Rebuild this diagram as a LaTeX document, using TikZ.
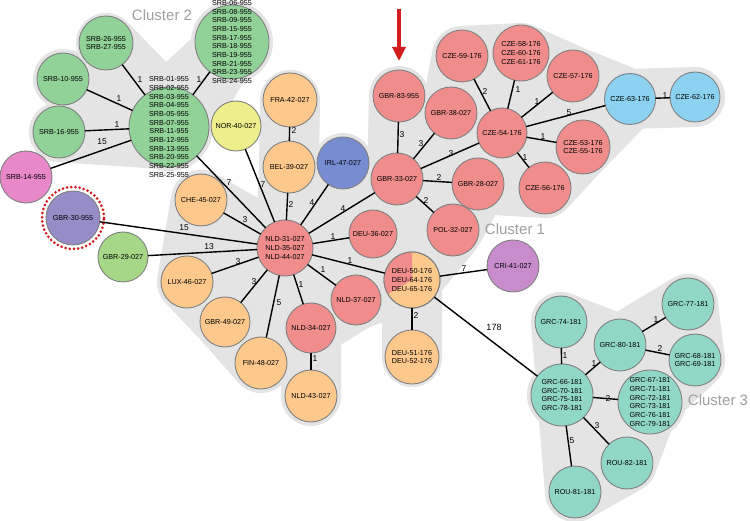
\documentclass[tikz,border=0pt]{standalone}
\usepackage{fontspec}
\setmainfont{Liberation Sans}
\usetikzlibrary{arrows.meta}
\pgfdeclarelayer{bg}
\pgfsetlayers{bg,main}
\definecolor{cgreen}{RGB}{144,210,152}
\definecolor{cpink}{RGB}{232,136,200}
\definecolor{cpurple}{RGB}{150,140,200}
\definecolor{clgreen}{RGB}{166,215,134}
\definecolor{corange}{RGB}{253,200,140}
\definecolor{cred}{RGB}{240,140,140}
\definecolor{cyellow}{RGB}{238,238,140}
\definecolor{cblue}{RGB}{120,140,210}
\definecolor{clblue}{RGB}{140,210,240}
\definecolor{cviolet}{RGB}{200,140,205}
\definecolor{cteal}{RGB}{145,215,200}
\definecolor{hullgray}{RGB}{228,228,228}
\definecolor{labgray}{RGB}{160,160,160}
\definecolor{arrowred}{RGB}{210,30,30}
\tikzset{
  nd/.style={circle, draw=black!50, line width=0.9pt, inner sep=0pt, outer sep=0pt},
  txt/.style={font=\fontsize{7.2}{8.7}\selectfont, align=center, inner sep=0pt},
  edge/.style={line width=1.4pt},
  el/.style={font=\fontsize{8.5}{10}\selectfont, inner sep=0pt},
  hull/.style={fill=hullgray, draw=hullgray, line join=round, line cap=round},
  clab/.style={font=\fontsize{15}{18}\selectfont, text=labgray, inner sep=0pt},
}
\newcommand\nd[5]{\node[nd, fill=#4, minimum size={2*#3pt}] (#1) at (#2) {};
  \node[txt] (#1t) at (#1.center) {#5};}
\begin{document}
\begin{tikzpicture}[x=1pt,y=-1pt]
\useasboundingbox (0,0) rectangle (750,521);
\begin{pgfonlayer}{bg}
\fill[white] (0,0) rectangle (750,521);
% Cluster 2 hull
\path[hull, line width=60pt] (106,43) -- (165,104) -- (232,42) -- (175,140) -- (59,132) -- (110,112) -- (63,79) -- (120,92) -- cycle;
\fill[hullgray] (232,42) circle (41pt) (169,127) circle (44pt);
% Cluster 1 hull
\path[hull, line width=60pt] (187,282) -- (201,200) -- (285,248) -- (289,167) -- (290,100) -- (289,167) -- (335,205) -- (397,179) -- (399,96) -- (420,150) -- (451,113) -- (462,56) -- (521,53) -- (573,76) -- (630,99) -- (695,97) -- (630,99) -- (583,147) -- (545,188) -- (478,184) -- (453,230) -- (412,280) -- (412,357) -- (412,280) -- (356,300) -- (311,328) -- (311,396) -- (311,328) -- (261,363) -- (225,322) -- cycle;
\fill[hullgray] (343,163) circle (30pt);
% Cluster 3 hull
\path[hull, line width=60pt] (561,322) -- (620,345) -- (688,304) -- (695,360) -- (650,402) -- (627,463) -- (575,492) -- cycle;
\fill[hullgray] (650,402) circle (36pt) (562,395) circle (35pt);
\end{pgfonlayer}

% cluster labels
\node[clab] (c2) at (162,15) {Cluster 2};
\node[clab] (c1) at (515,229) {Cluster 1};
\node[clab] (c3) at (718,400) {Cluster 3};

% nodes
\nd{srbhub}{169,127}{40}{cgreen}{SRB-01-955\\SRB-02-955\\SRB-03-955\\SRB-04-955\\SRB-05-955\\SRB-07-955\\SRB-11-955\\SRB-12-955\\SRB-13-955\\SRB-20-955\\SRB-22-955\\SRB-25-955}
\nd{srb06}{232,42}{37}{cgreen}{SRB-06-955\\SRB-08-955\\SRB-09-955\\SRB-15-955\\SRB-17-955\\SRB-18-955\\SRB-19-955\\SRB-21-955\\SRB-23-955\\SRB-24-955}
\nd{srb26}{106,43}{27}{cgreen}{SRB-26-955\\SRB-27-955}
\nd{srb10}{63,79}{26}{cgreen}{SRB-10-955}
\nd{srb16}{59,132}{26}{cgreen}{SRB-16-955}
\nd{srb14}{26,177}{26}{cpink}{SRB-14-955}
\nd{nor40}{236,126}{25}{cyellow}{NOR-40-027}
\nd{fra42}{290,100}{27}{corange}{FRA-42-027}
\nd{bel39}{289,167}{26}{corange}{BEL-39-027}
\nd{irl47}{343,163}{26}{cblue}{IRL-47-027}
\nd{che45}{201,200}{26}{corange}{CHE-45-027}
\nd{nld31}{285,248}{28}{cred}{NLD-31-027\\NLD-35-027\\NLD-44-027}
\draw[arrowred, line width=3pt, dash pattern=on 0pt off 4.2pt, line cap=round] (73,218) circle (31pt);
\nd{gbr30}{73,218}{27}{cpurple}{GBR-30-955}
\nd{gbr29}{123,257}{25}{clgreen}{GBR-29-027}
\nd{lux46}{187,282}{26}{corange}{LUX-46-027}
\nd{gbr49}{225,322}{25}{corange}{GBR-49-027}
\nd{fin48}{261,363}{26}{corange}{FIN-48-027}
\nd{nld34}{311,328}{25}{cred}{NLD-34-027}
\nd{nld43}{311,396}{26}{corange}{NLD-43-027}
\nd{nld37}{356,300}{25}{cred}{NLD-37-027}
\nd{deu36}{373,234}{24}{cred}{DEU-36-027}
% split node
\node[nd, fill=corange, minimum size=56pt] (deu50) at (412,280) {};
\fill[cred] (412,252) arc[start angle=90, end angle=210, radius=28pt] -- (412,280) -- cycle;
\node[nd, minimum size=56pt] (deu50r) at (412,280) {};
\node[txt] (deu50t) at (412,280) {DEU-50-176\\DEU-64-176\\DEU-65-176};
\nd{deu51}{412,357}{27}{corange}{DEU-51-176\\DEU-52-176}
\nd{cri41}{513,266}{26}{cviolet}{CRI-41-027}
\nd{gbr33}{397,179}{26}{cred}{GBR-33-027}
\nd{gbr83}{399,96}{26}{cred}{GBR-83-955}
\nd{gbr38}{451,113}{26}{cred}{GBR-38-027}
\nd{gbr28}{478,184}{26}{cred}{GBR-28-027}
\nd{pol32}{453,230}{26}{cred}{POL-32-027}
\nd{cze54}{502,133}{25}{cred}{CZE-54-176}
\nd{cze59}{462,56}{26}{cred}{CZE-59-176}
\nd{cze58}{521,53}{28}{cred}{CZE-58-176\\CZE-60-176\\CZE-61-176}
\nd{cze57}{573,76}{26}{cred}{CZE-57-176}
\nd{cze63}{630,99}{25.5}{clblue}{CZE-63-176}
\nd{cze62}{695,97}{25}{clblue}{CZE-62-176}
\nd{cze53}{583,147}{27}{cred}{CZE-53-176\\CZE-55-176}
\nd{cze56}{545,188}{26}{cred}{CZE-56-176}
\nd{grc66}{562,395}{31}{cteal}{GRC-66-181\\GRC-70-181\\GRC-75-181\\GRC-78-181}
\nd{grc74}{561,322}{26}{cteal}{GRC-74-181}
\nd{grc80}{620,345}{26}{cteal}{GRC-80-181}
\nd{grc77}{688,304}{26}{cteal}{GRC-77-181}
\nd{grc68}{695,360}{26}{cteal}{GRC-68-181\\GRC-69-181}
\nd{grc67}{650,402}{32}{cteal}{GRC-67-181\\GRC-71-181\\GRC-72-181\\GRC-73-181\\GRC-76-181\\GRC-79-181}
\nd{rou82}{627,463}{26}{cteal}{ROU-82-181}
\nd{rou81}{575,492}{26}{cteal}{ROU-81-181}

% edges
\draw[edge] (srbhub) -- (srb26);
\draw[edge] (srbhub) -- (srb10);
\draw[edge] (srbhub) -- (srb16);
\draw[edge] (srbhub) -- (srb14);
\draw[edge] (srbhub) -- (srb06);
\draw[edge] (srbhub) -- (nld31);
\draw[edge] (nor40) -- (nld31);
\draw[edge] (fra42) -- (bel39);
\draw[edge] (bel39) -- (nld31);
\draw[edge] (irl47) -- (nld31);
\draw[edge] (gbr33) -- (nld31);
\draw[edge] (deu36) -- (nld31);
\draw[edge] (deu50r) -- (nld31);
\draw[edge] (nld37) -- (nld31);
\draw[edge] (nld34) -- (nld31);
\draw[edge] (nld34) -- (nld43);
\draw[edge] (fin48) -- (nld31);
\draw[edge] (gbr49) -- (nld31);
\draw[edge] (lux46) -- (nld31);
\draw[edge] (gbr29) -- (nld31);
\draw[edge] (gbr30) -- (nld31);
\draw[edge] (che45) -- (nld31);
\draw[edge] (gbr83) -- (gbr33);
\draw[edge] (gbr38) -- (gbr33);
\draw[edge] (cze54) -- (gbr33);
\draw[edge] (gbr28) -- (gbr33);
\draw[edge] (pol32) -- (gbr33);
\draw[edge] (cze59) -- (cze54);
\draw[edge] (cze58) -- (cze54);
\draw[edge] (cze57) -- (cze54);
\draw[edge] (cze63) -- (cze54);
\draw[edge] (cze53) -- (cze54);
\draw[edge] (cze56) -- (cze54);
\draw[edge] (cze63) -- (cze62);
\draw[edge] (deu50r) -- (cri41);
\draw[edge] (deu50r) -- (deu51);
\draw[edge] (deu50r) -- (grc66);
\draw[edge] (grc74) -- (grc66);
\draw[edge] (grc80) -- (grc66);
\draw[edge] (grc80) -- (grc77);
\draw[edge] (grc80) -- (grc68);
\draw[edge] (grc67) -- (grc66);
\draw[edge] (rou82) -- (grc66);
\draw[edge] (rou81) -- (grc66);

% edge labels
\node[el] (l1) at (140,80) {1};
\node[el] (l2) at (119,99) {1};
\node[el] (l3) at (117,125) {1};
\node[el] (l4) at (102,142) {15};
\node[el] (l5) at (199,80) {1};
\node[el] (l6) at (229,183) {7};
\node[el] (l7) at (263,185) {7};
\node[el] (l8) at (294,131) {2};
\node[el] (l9) at (291,205) {2};
\node[el] (l10) at (312,203) {4};
\node[el] (l11) at (343,209) {4};
\node[el] (l12) at (333,237) {1};
\node[el] (l13) at (350,261) {1};
\node[el] (l14) at (323,270) {1};
\node[el] (l15) at (301,285) {1};
\node[el] (l16) at (315,359) {1};
\node[el] (l17) at (279,303) {5};
\node[el] (l18) at (254,282) {3};
\node[el] (l19) at (238,262) {3};
\node[el] (l20) at (209,247) {13};
\node[el] (l21) at (184,228) {15};
\node[el] (l22) at (245,220) {3};
\node[el] (l23) at (402,135) {3};
\node[el] (l24) at (421,144) {3};
\node[el] (l25) at (451,154) {3};
\node[el] (l26) at (439,178) {2};
\node[el] (l27) at (426,201) {2};
\node[el] (l28) at (485,92) {2};
\node[el] (l29) at (518,90) {1};
\node[el] (l30) at (537,102) {1};
\node[el] (l31) at (569,113) {5};
\node[el] (l32) at (543,137) {1};
\node[el] (l33) at (525,158) {1};
\node[el] (l34) at (665,96) {1};
\node[el] (l35) at (464,269) {7};
\node[el] (l36) at (416,316) {2};
\node[el, font=\fontsize{9}{10}\selectfont] (l37) at (494,327) {178};
\node[el] (l38) at (565,356) {1};
\node[el] (l39) at (594,364) {1};
\node[el] (l40) at (656,320) {1};
\node[el] (l41) at (660,349) {2};
\node[el] (l42) at (608,399) {2};
\node[el] (l43) at (597,426) {3};
\node[el] (l44) at (572,441) {5};

% red arrow
\coordinate (atop) at (399,9);
\draw[arrowred, line width=3.3pt, -{Triangle[length=14pt, width=13pt]}] (atop) -- ([yshift=-52pt]atop);
\end{tikzpicture}
\end{document}
